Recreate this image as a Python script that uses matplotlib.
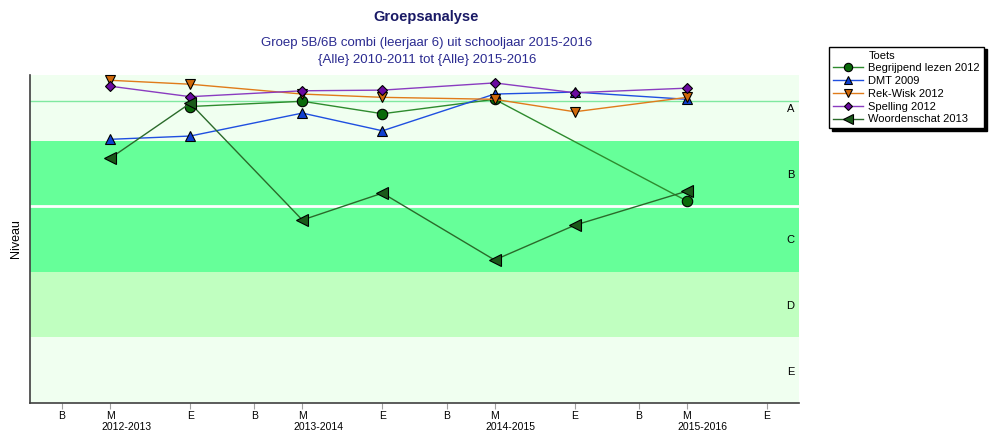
import numpy as np
import matplotlib
matplotlib.use("Agg")
import matplotlib.pyplot as plt

plt.rcParams['font.family'] = ['Liberation Sans', 'DejaVu Sans']

# ---- data ----
years = ['2012-2013', '2013-2014', '2014-2015', '2015-2016']
periods = ['B', 'M', 'E']
levels = ['E', 'D', 'C', 'B', 'A']
# measurement moments (period, year)
moments = [('M', 0), ('E', 0), ('M', 1), ('E', 1), ('M', 2), ('E', 2), ('M', 3)]
series_names = ['Begrijpend lezen 2012', 'DMT 2009', 'Rek-Wisk 2012', 'Spelling 2012', 'Woordenschat 2013']
begrijpend = [np.nan, 4.52, 4.60, 4.41, 4.63, np.nan, 3.08]
dmt = [4.02, 4.07, 4.42, 4.15, 4.71, 4.74, 4.63]
rekwisk = [4.92, 4.86, 4.71, 4.66, 4.63, 4.44, 4.66]
spelling = [4.83, 4.67, 4.76, 4.77, 4.88, 4.73, 4.80]
woordenschat = [3.73, 4.57, 2.79, 3.20, 2.18, 2.71, 3.23]
ref_level = 4.6

# ---- scale: months from start ----
period_offset = {'B': 0, 'M': 3, 'E': 8}
def xpos(p, yi):
    return yi * 12 + period_offset[p]

xs = np.array([xpos(p, yi) for p, yi in moments], dtype=float)

fig = plt.figure(figsize=(10, 4.44), dpi=100)
ax = fig.add_axes([0.03, 0.0923, 0.769, 0.7387])

band_colors = ['#f0fff0', '#c0ffc0', '#66ff99', '#66ff99', '#f0fff0']
for i, c in enumerate(band_colors):
    ax.axhspan(i, i + 1, color=c, lw=0, zorder=0)
ax.axhline(3, color='white', lw=2, zorder=1)
ax.axhline(ref_level, color='#80e8a0', lw=1, zorder=1)

xmin, xmax = -2, len(years) * 12 - 2
ax.set_xlim(xmin, xmax)
ax.set_ylim(0, 5)

for i, lab in enumerate(levels):
    ax.text(xmax - 0.3, i + 0.48, lab, ha='right', va='center', fontsize=8, color='black')

styles = [
    dict(color='#2e8b2e', marker='o', mfc='#0a6a0a', ms=7.5),
    dict(color='#1f4fe0', marker='^', mfc='#1040d0', ms=7.5),
    dict(color='#e07b1a', marker='v', mfc='#d0680a', ms=7.5),
    dict(color='#8a3cc0', marker='D', mfc='#6a0aa0', ms=5.5),
    dict(color='#2a6a2a', marker='<', mfc='#1a5a1a', ms=8.5),
]
all_series = [begrijpend, dmt, rekwisk, spelling, woordenschat]

handles = []
h0, = ax.plot([], [], color='none', label='Toets')
handles.append(h0)
for name, vals, st in zip(series_names, all_series, styles):
    v = np.array(vals, dtype=float)
    m = ~np.isnan(v)
    h, = ax.plot(xs[m], v[m], color=st['color'], lw=1, marker=st['marker'],
                 mfc=st['mfc'], mec='black', mew=0.8, ms=st['ms'], label=name, zorder=3,
                 clip_on=False)
    handles.append(h)

# x ticks
ticks, labels = [], []
for yi in range(len(years)):
    for p in periods:
        ticks.append(xpos(p, yi))
        labels.append(p)
ax.set_xticks(ticks)
ax.set_xticklabels(labels, fontsize=7.5)
ax.tick_params(axis='x', length=4, color='#a0a0a0', pad=2)
ax.set_yticks([])
for yi, yr in enumerate(years):
    ax.text((xpos('B', yi) + xpos('E', yi)) / 2, -0.058, yr, ha='center', va='top',
            fontsize=7.5, transform=ax.get_xaxis_transform())

for s in ['top', 'right']:
    ax.spines[s].set_visible(False)
for s in ['left', 'bottom']:
    ax.spines[s].set_color('#404040')
    ax.spines[s].set_linewidth(1.2)

ax.set_ylabel('Niveau', fontsize=9, labelpad=6)

fig.text(0.426, 0.962, 'Groepsanalyse', ha='center', va='center', fontsize=10.5,
         fontweight='bold', color='#1a1a66')
fig.text(0.427, 0.903, 'Groep 5B/6B combi (leerjaar 6) uit schooljaar 2015-2016', ha='center',
         va='center', fontsize=9.5, color='#2a2a90')
fig.text(0.427, 0.865, '{Alle} 2010-2011 tot {Alle} 2015-2016', ha='center',
         va='center', fontsize=9.5, color='#2a2a90')

leg = fig.legend(handles=handles, loc='upper left', bbox_to_anchor=(0.829, 0.895),
                 fontsize=8, frameon=True, fancybox=False, shadow={'color': 'black', 'alpha': 1},
                 edgecolor='black', framealpha=1, borderpad=0.35, labelspacing=0.25,
                 handlelength=2.7, handletextpad=0.5, borderaxespad=0, markerscale=0.8)
leg.get_frame().set_linewidth(1)

fig.savefig('out.png', dpi=100)
